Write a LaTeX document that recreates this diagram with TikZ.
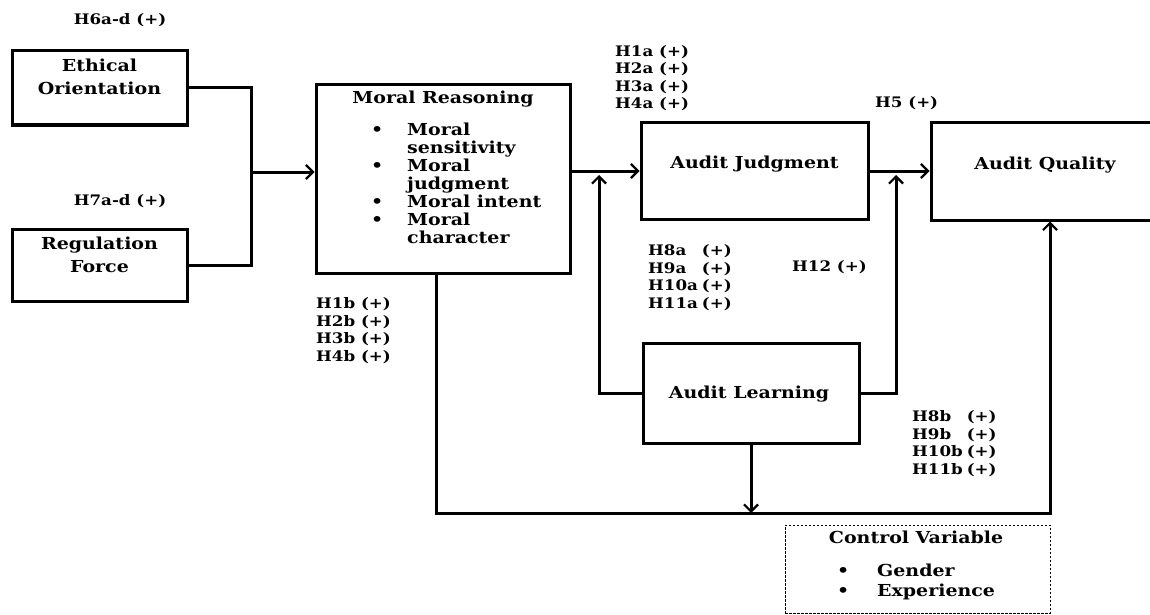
\documentclass[tikz,border=0pt]{standalone}
\usepackage{fontspec}
\setmainfont{DejaVu Serif}[FakeStretch=1.15]
\usetikzlibrary{arrows.meta}
\begin{document}
\begin{tikzpicture}[x=1pt,y=-1pt,
  box/.style={draw, line width=3pt, inner sep=0pt},
  dbox/.style={draw, line width=1pt, dash pattern=on 2.5pt off 1.5pt, inner sep=0pt},
  conn/.style={line width=3pt},
  arr/.style={conn, -{Straight Barb[length=7pt,width=14pt,line width=2.2pt]}},
  lbl/.style={font=\bfseries\fontsize{14.5}{17.5}\selectfont, align=left, inner sep=0pt, anchor=west},
  txt/.style={font=\bfseries\fontsize{16.5}{23}\selectfont, align=center, inner sep=0pt},
  lst/.style={font=\bfseries\fontsize{16.5}{18}\selectfont, inner sep=0pt, anchor=west},
]
\useasboundingbox (0,0) rectangle (1150,615);
% boxes
\node[box, minimum width=175pt, minimum height=74pt] (eo) at (99.5,88) {};
\node[txt] (eot) at (99.5,76.5) {Ethical\\Orientation};
\node[box, minimum width=175pt, minimum height=72pt] (rf) at (99.5,265) {};
\node[txt] (rft) at (99.5,254.5) {Regulation\\Force};
\node[box, minimum width=254pt, minimum height=188pt] (mr) at (443,179) {};
\node[txt] (mrt) at (443,99) {Moral Reasoning};
\node[lst] (mrl) at (371,186) {\begin{tabular}{@{}p{36pt}@{}l@{}}
\textbullet & Moral\\ & sensitivity\\ \textbullet & Moral\\ & judgment\\
\textbullet & Moral intent\\ \textbullet & Moral\\ & character\end{tabular}};
\node[box, minimum width=227pt, minimum height=96pt] (aj) at (754.5,171) {};
\node[txt] (ajt) at (754.5,164) {Audit Judgment};
\node[box, minimum width=221pt, minimum height=97pt] (aq) at (1041.5,171.5) {};
\node[txt] (aqt) at (1045,165) {Audit Quality};
\node[box, minimum width=216pt, minimum height=100pt, fill=white] (al) at (751,393) {};
\node[txt] (alt) at (749,394) {Audit Learning};
\node[dbox, minimum width=265pt, minimum height=88pt] (cv) at (917.5,569) {};
\node[txt] (cvt) at (916,537) {Control Variable};
\node[lst, font=\bfseries\fontsize{16.5}{20}\selectfont] (cvl) at (837,582) {\begin{tabular}{@{}p{40pt}@{}l@{}}
\textbullet & Gender\\ \textbullet & Experience\end{tabular}};
% hypothesis labels
\node[lbl, anchor=center] (h6) at (120,20) {H6a-d (+)};
\node[lbl, anchor=center] (h7) at (120,201) {H7a-d (+)};
\node[lbl] (h1a) at (615,78) {H1a (+)\\H2a (+)\\H3a (+)\\H4a (+)};
\node[lbl] (h5) at (875,103) {H5 (+)};
\node[lbl] (h1b) at (316,330.5) {H1b (+)\\H2b (+)\\H3b (+)\\H4b (+)};
\node[lbl] (h8a) at (648,278.5) {\begin{tabular}{@{}l@{\hspace{4pt}}l@{}}H8a & (+)\\H9a & (+)\\H10a & (+)\\H11a & (+)\end{tabular}};
\node[lbl] (h12) at (792,267) {H12 (+)};
\node[lbl] (h8b) at (912,444.5) {\begin{tabular}{@{}l@{\hspace{4pt}}l@{}}H8b & (+)\\H9b & (+)\\H10b & (+)\\H11b & (+)\end{tabular}};
% coordinates
\coordinate (j) at (251,172);
\coordinate (ja) at (599,175);
\coordinate (jb) at (896,175);
\coordinate (bot) at (436,513);
% connectors
\draw[conn] (eo.east) -| (j);
\draw[conn] (rf.east) -| (j);
\draw[arr] (j) -- (mr.west |- j);
\draw[arr] (mr.east |- aj.west) -- (aj.west);
\draw[arr] (aj.east) -- (aq.west |- aj.east);
\draw[arr] (al.west) -| (ja);
\draw[arr] (al.east) -| (jb);
\draw[arr] (mr.south -| bot) -- (bot) -- ([xshift=8.5pt]aq.south |- bot) -- ([xshift=8.5pt]aq.south);
\draw[arr] (al.south) -- (al.south |- bot);
\end{tikzpicture}
\end{document}
